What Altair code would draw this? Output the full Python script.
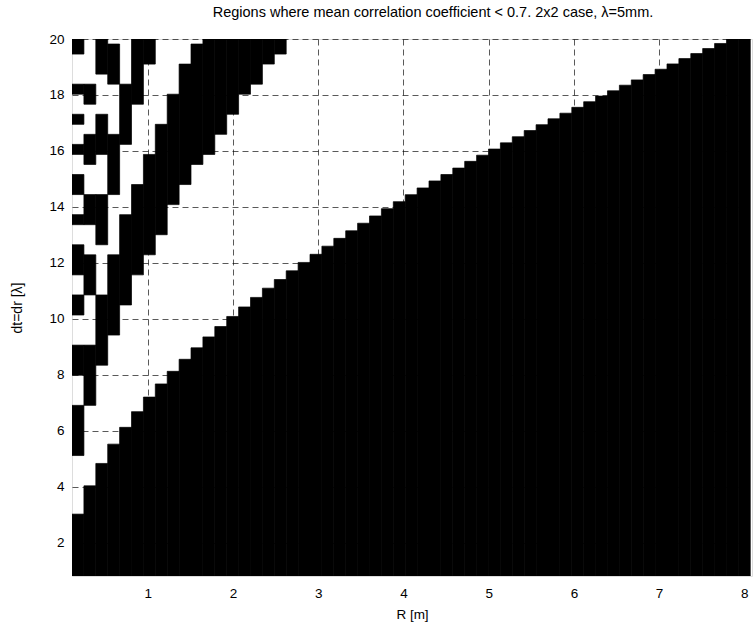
import altair as alt
import pandas as pd

# ---- data ----
TITLE = "Regions where mean correlation coefficient < 0.7. 2x2 case, \u03bb=5mm."
X_TICKS = [1, 2, 3, 4, 5, 6, 7, 8]
Y_TICKS = [2, 4, 6, 8, 10, 12, 14, 16, 18, 20]
X_DOMAIN = [0.11, 8.09]
Y_DOMAIN = [0.82, 20.0]

# image grid of the picture: 57 columns from R=0.18 to 8.0, 54 rows from dt=1 to 20
N_COLS, R_FIRST, R_LAST = 57, 0.18, 8.0
N_ROWS, DT_FIRST, DT_LAST = 54, 1.0, 20.0

# upper edge of the large lower black region, one value per image column
lower_top = [
    3.03, 4.04, 4.84, 5.53, 6.13, 6.69, 7.21, 7.68, 8.13, 8.56,
    8.97, 9.36, 9.73, 10.09, 10.43, 10.77, 11.10, 11.41, 11.72, 12.02,
    12.31, 12.60, 12.88, 13.15, 13.42, 13.68, 13.94, 14.19, 14.44, 14.68,
    14.93, 15.16, 15.39, 15.63, 15.85, 16.07, 16.29, 16.51, 16.73, 16.94,
    17.15, 17.35, 17.56, 17.76, 17.96, 18.15, 18.35, 18.54, 18.73, 18.92,
    19.11, 19.30, 19.48, 19.66, 19.84, 20.0, 20.0,
]

# black stripes in the upper-left part: for the first image columns, list of [dt_low, dt_high]
stripe_dt = [
    [[5.20, 6.75], [8.02, 9.09], [10.05, 10.92], [11.73, 12.49], [13.21, 13.88], [14.53, 15.15],
     [15.74, 16.32], [16.87, 17.40], [17.93, 18.43], [19.50, 20]],
    [[6.93, 9.00], [10.69, 12.12], [13.40, 14.57], [15.65, 16.66], [17.61, 18.51]],
    [[8.30, 10.78], [12.80, 14.52], [16.05, 17.44], [18.74, 20]],
    [[9.48, 12.31], [14.62, 16.58], [18.33, 19.93]],
    [[10.52, 13.66], [16.23, 18.40]],
    [[11.48, 14.90], [17.70, 20]],
    [[12.36, 16.05], [19.06, 20]],
    [[13.17, 17.11]],
    [[13.95, 18.11]],
    [[14.68, 19.06]],
    [[15.38, 19.97]],
    [[16.04, 20]],
    [[16.68, 20]],
    [[17.30, 20]],
    [[17.89, 20]],
    [[18.47, 20]],
    [[19.03, 20]],
    [[19.57, 20]],
]

# ---- tables ----
col_step = (R_LAST - R_FIRST) / (N_COLS - 1)
row_step = (DT_LAST - DT_FIRST) / (N_ROWS - 1)
col_R = [R_FIRST + k * col_step for k in range(N_COLS)]
row_dt = [DT_FIRST + j * row_step for j in range(N_ROWS)]


def col_edges(k):
    return (max(col_R[k] - col_step / 2, X_DOMAIN[0]), min(col_R[k] + col_step / 2, X_DOMAIN[1]))


rects = []
# lower region, one bar per column
for k, top in enumerate(lower_top):
    x0, x1 = col_edges(k)
    rects.append({"x0": x0, "x1": x1, "y0": Y_DOMAIN[0], "y1": top})

# stripes, drawn on the picture's row grid
for k, ivs in enumerate(stripe_dt):
    x0, x1 = col_edges(k)
    black = [any(lo <= d <= hi for lo, hi in ivs) for d in row_dt]
    j = 0
    while j < N_ROWS:
        if black[j]:
            j2 = j
            while j2 + 1 < N_ROWS and black[j2 + 1]:
                j2 += 1
            y0 = max(row_dt[j] - row_step / 2, Y_DOMAIN[0])
            y1 = min(row_dt[j2] + row_step / 2, Y_DOMAIN[1])
            rects.append({"x0": x0, "x1": x1, "y0": y0, "y1": y1})
            j = j2 + 1
        else:
            j += 1

cells = pd.DataFrame(rects)

FONT = "Liberation Sans"
W, H = 680, 537

xscale = alt.Scale(domain=X_DOMAIN, nice=False, zero=False)
yscale = alt.Scale(domain=Y_DOMAIN, nice=False, zero=False)

xaxis = alt.Axis(values=X_TICKS, title="R [m]", grid=True, gridColor="black", gridOpacity=0.65,
                 gridDash=[6, 4], ticks=False, labelPadding=10, domain=False,
                 labelFont=FONT, labelFontSize=13.5, labelColor="black",
                 titleFont=FONT, titleFontSize=13.5, titleFontWeight="normal", titleColor="black",
                 titleX=W / 2, titleY=38, titleBaseline="middle", zindex=1)
yaxis = alt.Axis(values=Y_TICKS, title="dt=dr [\u03bb]", grid=True, gridColor="black", gridOpacity=0.65,
                 gridDash=[6, 4], ticks=False, labelPadding=8, domain=False,
                 labelFont=FONT, labelFontSize=13.5, labelColor="black",
                 titleFont=FONT, titleFontSize=14, titleFontWeight="normal", titleColor="black",
                 titleX=-55, titleY=H / 2, titleBaseline="middle", titleAngle=-90, zindex=1)

chart = alt.Chart(cells).mark_rect(color="black", clip=True, stroke="black", strokeWidth=0.7).encode(
    x=alt.X("x0:Q", scale=xscale, axis=xaxis),
    x2="x1:Q",
    y=alt.Y("y0:Q", scale=yscale, axis=yaxis),
    y2="y1:Q",
).properties(
    width=W, height=H,
    title=alt.TitleParams(TITLE, font=FONT, fontSize=14.5, fontWeight="normal", color="black",
                          anchor="middle", offset=12, dx=21),
    autosize=alt.AutoSizeParams(type="none"),
    padding={"left": 72, "top": 39, "right": 3, "bottom": 55},
).configure_view(stroke="black", strokeWidth=1).configure(background="white")

chart.save("out.html", embed_options={"renderer": "svg", "actions": False})
